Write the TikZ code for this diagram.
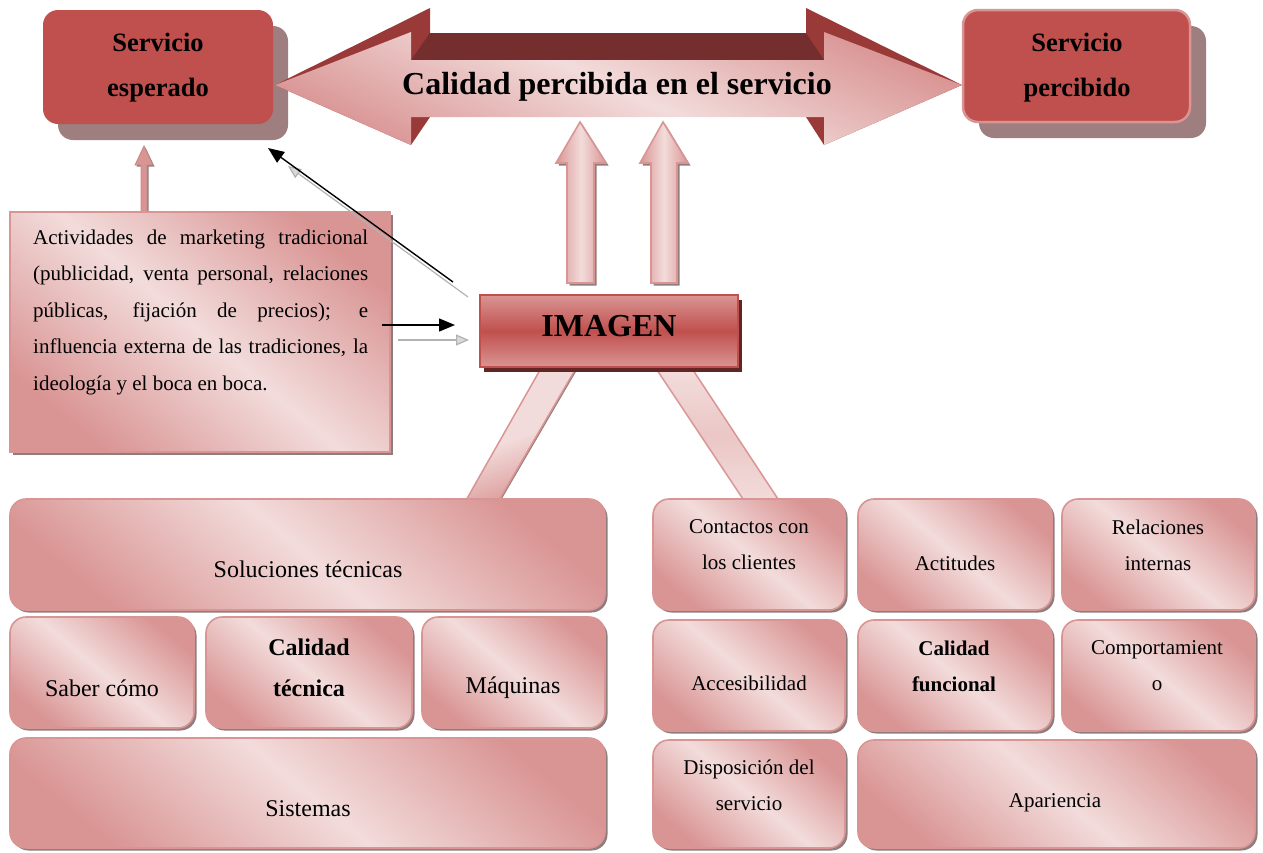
\documentclass[tikz,border=0pt]{standalone}
\usepackage{fontspec}
\setmainfont{Liberation Serif}
\usetikzlibrary{shadows,arrows.meta}
\definecolor{redc}{HTML}{C0504D}
\definecolor{pinkd}{HTML}{D99594}
\definecolor{pinkl}{HTML}{F2DCDB}
\definecolor{pinkm}{HTML}{E6B9B8}
\definecolor{darkred}{HTML}{632523}
\definecolor{headface}{HTML}{9A3A38}
\definecolor{shaftface}{HTML}{742E2D}
\definecolor{shadowc}{HTML}{8F7C7C}
\definecolor{bigshadow}{HTML}{9E7E7E}
\begin{document}
\begin{tikzpicture}[x=1pt,y=-1pt,
  pinkfill/.style={top color=pinkd, bottom color=pinkd, middle color=pinkl, shading angle=-40},
  cell/.style={draw=pinkd, line width=1.6pt, rounded corners=16pt, pinkfill, inner sep=0pt,
     drop shadow={fill=shadowc, opacity=1, shadow xshift=2.5pt, shadow yshift=-2.5pt}},
  topbox/.style={fill=redc, rounded corners=15pt, inner sep=0pt},
  lt/.style={font=\fontsize{24}{41}\selectfont, align=center, inner sep=0pt},
  rt/.style={font=\fontsize{21}{36}\selectfont, align=center, inner sep=0pt},
  bt/.style={font=\fontsize{21}{36.5}\selectfont, inner sep=0pt, anchor=base west},
  uparrow/.style={draw=pinkd, line width=1.6pt, left color=pinkd, right color=pinkd, middle color=pinkl,
     drop shadow={fill=shadowc, opacity=1, shadow xshift=2.5pt, shadow yshift=-2.5pt}},
  blackarrow/.style={line width=1.4pt, -{Triangle[length=16pt,width=13pt]}},
  grayarrow/.style={draw=gray!60, line width=1.2pt, -{Triangle[length=13pt,width=11pt,fill=gray!30]}}
]
\useasboundingbox (0,0) rectangle (1263,852);

% top boxes
\node[topbox, minimum width=230pt, minimum height=114pt,
  drop shadow={fill=bigshadow, opacity=1, shadow xshift=15pt, shadow yshift=-16pt}] (esp) at (158,67) {};
\node[font=\fontsize{26.5}{45}\selectfont\bfseries, align=center, inner sep=0pt] (esptext) at (158,67.5) {Servicio\\esperado};
\node[topbox, draw=pinkd, line width=2.5pt, minimum width=227pt, minimum height=112pt,
  drop shadow={fill=bigshadow, opacity=1, shadow xshift=16pt, shadow yshift=-16pt}] (perc) at (1076.5,66) {};
\node[font=\fontsize{26.5}{45}\selectfont\bfseries, align=center, inner sep=0pt] (perctext) at (1077,67.5) {Servicio\\percibido};

% big 3D double arrow
\fill[headface] (275,85) -- (430,8) -- (430,117) -- (411,145) -- cycle;
\fill[headface] (962,85) -- (806,8) -- (806,117) -- (824,145) -- cycle;
\fill[shaftface] (430,33) -- (806,33) -- (824,60) -- (411,60) -- cycle;
\shade[top color=pinkd, bottom color=pinkd, middle color=pinkl, shading angle=-25]
  (275,85) -- (411,32) -- (411,60) -- (824,60) -- (824,32) -- (962,85) -- (824,145) -- (824,117)
  -- (411,117) -- (411,145) -- cycle;
\node[font=\fontsize{32}{36}\selectfont\bfseries, inner sep=0pt] (title) at (617,87) {Calidad percibida en el servicio};

% vertical arrows
\draw[uparrow] (580,122) -- (606,163) -- (594,163) -- (594,283) -- (567,283) -- (567,163) -- (556,163) -- cycle;
\draw[uparrow] (663,122) -- (688,163) -- (677,163) -- (677,283) -- (651,283) -- (651,163) -- (640,163) -- cycle;

% small arrow to Servicio esperado
\draw[draw=pinkd!90!black, line width=0.8pt, fill=pinkd,
  drop shadow={fill=shadowc, opacity=1, shadow xshift=1.5pt, shadow yshift=-1.5pt}]
  (144,146) -- (153,165) -- (147,165) -- (147,212) -- (141,212) -- (141,165) -- (135,165) -- cycle;

% text box
\node[draw=pinkd, line width=1.5pt, pinkfill, inner sep=0pt, minimum width=380pt, minimum height=240pt,
  drop shadow={fill=shadowc, opacity=1, shadow xshift=3pt, shadow yshift=-3pt}] (tbox) at (200,332) {};
\node[bt] (t1) at (33,244) {\makebox[335pt][s]{Actividades de marketing tradicional}};
\node[bt] (t2) at (33,280.5) {\makebox[335pt][s]{(publicidad, venta personal, relaciones}};
\node[bt] (t3) at (33,317) {\makebox[335pt][s]{públicas, fijación de precios); e}};
\node[bt] (t4) at (33,353.5) {\makebox[335pt][s]{influencia externa de las tradiciones, la}};
\node[bt] (t5) at (33,390) {ideología y el boca en boca.};

% diagonal bars
\draw[draw=pinkd, line width=1.5pt, top color=pinkl, bottom color=pinkd, middle color=pinkl, shading angle=20,
  drop shadow={fill=shadowc, opacity=1, shadow xshift=2pt, shadow yshift=0pt}]
  (540,370) -- (575,370) -- (498,502) -- (465,502) -- cycle;
\draw[draw=pinkd, line width=1.5pt, top color=pinkl, bottom color=pinkl, middle color=pinkl!70!pinkd]
  (657,370) -- (693,370) -- (780,502) -- (745,502) -- cycle;

% IMAGEN
\node[draw=redc, line width=1.5pt, top color=pinkd, bottom color=pinkd, middle color=redc, inner sep=0pt,
  minimum width=258pt, minimum height=72pt,
  drop shadow={fill=darkred, opacity=1, shadow xshift=4pt, shadow yshift=-5pt}] (img) at (609,331) {};
\node[font=\fontsize{32}{36}\selectfont\bfseries, inner sep=0pt] (imgtext) at (609,326) {IMAGEN};

% arrows
\coordinate (g1s) at (468,297); \coordinate (g1e) at (288,166);
\coordinate (b1s) at (453,282); \coordinate (b1e) at (268,148);
\coordinate (g2s) at (398,340); \coordinate (g2e) at (469,340);
\coordinate (b2s) at (382,325); \coordinate (b2e) at (455,325);
\draw[grayarrow] (g1s) -- (g1e);
\draw[blackarrow] (b1s) -- (b1e);
\draw[grayarrow] (g2s) -- (g2e);
\draw[blackarrow] (b2s) -- (b2e);

% technical quality
\node[cell, minimum width=595pt, minimum height=111pt] (sol) at (307.5,554.5) {};
\node[lt] (solt) at (308,569) {Soluciones técnicas};
\node[cell, minimum width=184pt, minimum height=111pt] (sab) at (102,672.5) {};
\node[lt] (sabt) at (102,688) {Saber cómo};
\node[cell, minimum width=206pt, minimum height=111pt] (ct) at (309,672.5) {};
\node[lt, font=\fontsize{24}{41}\selectfont\bfseries] (ctt) at (309,668) {Calidad\\técnica};
\node[cell, minimum width=183pt, minimum height=111pt] (maq) at (513.5,672.5) {};
\node[lt] (maqt) at (513,688) {Máquinas};
\node[cell, minimum width=595pt, minimum height=110pt] (sis) at (307.5,793) {};
\node[lt] (sist) at (308,809) {Sistemas};

% functional quality
\node[cell, minimum width=192pt, minimum height=111pt] (con) at (749,554.5) {};
\node[rt] (cont) at (749,545) {Contactos con\\los clientes};
\node[cell, minimum width=194pt, minimum height=111pt] (act) at (955,554.5) {};
\node[rt] (actt) at (955,563) {Actitudes};
\node[cell, minimum width=193pt, minimum height=111pt] (rel) at (1158.5,554.5) {};
\node[rt] (relt) at (1158,545) {Relaciones\\internas};
\node[cell, minimum width=192pt, minimum height=111pt] (acc) at (749,675.5) {};
\node[rt] (acct) at (749,683) {Accesibilidad};
\node[cell, minimum width=194pt, minimum height=111pt] (cf) at (955,675.5) {};
\node[rt, font=\fontsize{21}{36}\selectfont\bfseries] (cft) at (954,666) {Calidad\\funcional};
\node[cell, minimum width=193pt, minimum height=111pt] (com) at (1158.5,675.5) {};
\node[rt] (comt) at (1157,666) {Comportamient\\o};
\node[cell, minimum width=192pt, minimum height=108pt] (dis) at (749,794) {};
\node[rt] (dist) at (749,785) {Disposición del\\servicio};
\node[cell, minimum width=397pt, minimum height=108pt] (apa) at (1056.5,794) {};
\node[rt] (apat) at (1055,803) {Apariencia};
\end{tikzpicture}
\end{document}
